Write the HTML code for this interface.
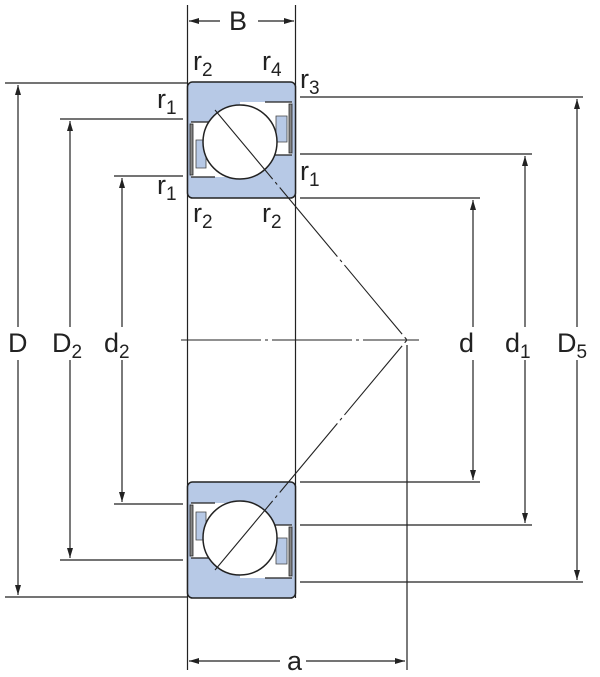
<!DOCTYPE html>
<html><head><meta charset="utf-8"><style>
html,body{margin:0;padding:0;background:#fff}
svg{display:block}
text{font-family:"Liberation Sans",sans-serif;fill:#222}
</style></head><body>
<svg width="600" height="677" viewBox="0 0 600 677">
<defs>
<marker id="ar" viewBox="0 0 10 6" refX="10" refY="3" markerWidth="14" markerHeight="6" markerUnits="userSpaceOnUse" orient="auto-start-reverse">
<path d="M0,0 L10,3 L0,6 z" fill="#222"/></marker>
<g id="brg">
<rect x="187.5" y="82" width="108" height="116" rx="5" fill="#b7c9e6" stroke="#222" stroke-width="1.5"/>
<path d="M191,122 H240 V102 H292 V155 H240 V177 H191 Z" fill="#fff"/>
<path d="M191,122 H215 M191,177 H215 M265,102 H292 M265,155 H292" stroke="#222" stroke-width="1.2" fill="none"/>
<path d="M196,140 H206 V168 H196 Z" fill="#b7c9e6" stroke="#444" stroke-width="0.8"/>
<path d="M276,116 H287 V142 H276 Z" fill="#b7c9e6" stroke="#444" stroke-width="0.8"/>
<rect x="190" y="124" width="3" height="51" fill="#888" stroke="#222" stroke-width="0.8"/>
<rect x="289" y="104" width="3" height="49" fill="#888" stroke="#222" stroke-width="0.8"/>
<circle cx="240" cy="142" r="37" fill="#fff" stroke="#222" stroke-width="1.5"/>
</g>
</defs>
<g stroke="#222" stroke-width="1.2" fill="none">
<line x1="187.5" y1="5" x2="187.5" y2="670"/>
<line x1="295.5" y1="5" x2="295.5" y2="598"/>
<line x1="189" y1="21" x2="220" y2="21" marker-start="url(#ar)"/>
<line x1="258" y1="21" x2="294" y2="21" marker-end="url(#ar)"/>
<line x1="5" y1="83" x2="187" y2="83"/>
<line x1="5" y1="597" x2="187" y2="597"/>
<line x1="60" y1="119" x2="183" y2="119"/>
<line x1="60" y1="560" x2="183" y2="560"/>
<line x1="114" y1="176" x2="183" y2="176"/>
<line x1="114" y1="504" x2="183" y2="504"/>
<line x1="300" y1="97" x2="583" y2="97"/>
<line x1="300" y1="582" x2="583" y2="582"/>
<line x1="300" y1="154" x2="532" y2="154"/>
<line x1="300" y1="525" x2="532" y2="525"/>
<line x1="300" y1="198" x2="480" y2="198"/>
<line x1="300" y1="482" x2="480" y2="482"/>
<line x1="18" y1="327" x2="18" y2="85" marker-end="url(#ar)"/>
<line x1="18" y1="360" x2="18" y2="595" marker-end="url(#ar)"/>
<line x1="70" y1="327" x2="70" y2="121" marker-end="url(#ar)"/>
<line x1="70" y1="360" x2="70" y2="558" marker-end="url(#ar)"/>
<line x1="122" y1="327" x2="122" y2="178" marker-end="url(#ar)"/>
<line x1="122" y1="360" x2="122" y2="502" marker-end="url(#ar)"/>
<line x1="473" y1="327" x2="473" y2="200" marker-end="url(#ar)"/>
<line x1="473" y1="360" x2="473" y2="480" marker-end="url(#ar)"/>
<line x1="525" y1="327" x2="525" y2="156" marker-end="url(#ar)"/>
<line x1="525" y1="360" x2="525" y2="523" marker-end="url(#ar)"/>
<line x1="577" y1="327" x2="577" y2="99" marker-end="url(#ar)"/>
<line x1="577" y1="360" x2="577" y2="580" marker-end="url(#ar)"/>
<line x1="407" y1="345" x2="407" y2="670"/>
<line x1="189" y1="661" x2="280" y2="661" marker-start="url(#ar)"/>
<line x1="306" y1="661" x2="405" y2="661" marker-end="url(#ar)"/>
</g>
<use href="#brg"/>
<use href="#brg" transform="translate(0,680) scale(1,-1)"/>
<g stroke="#222" stroke-width="1.1" fill="none">
<line x1="181" y1="340" x2="419" y2="340" stroke-dasharray="80,4,3,4"/>
<line x1="215" y1="110" x2="407" y2="340" stroke-dasharray="90,4,3,4"/>
<line x1="215" y1="570" x2="407" y2="340" stroke-dasharray="90,4,3,4"/>
</g>
<g font-size="27">
<text x="229" y="30">B</text>
<text x="287" y="670">a</text>
<text x="8" y="352">D</text>
<text x="52" y="352">D<tspan font-size="19" dy="6">2</tspan></text>
<text x="104" y="352">d<tspan font-size="19" dy="6">2</tspan></text>
<text x="459" y="352">d</text>
<text x="505" y="352">d<tspan font-size="19" dy="6">1</tspan></text>
<text x="557" y="352">D<tspan font-size="19" dy="6">5</tspan></text>
<text x="193" y="70">r<tspan font-size="19" dy="6">2</tspan></text>
<text x="262" y="70">r<tspan font-size="19" dy="6">4</tspan></text>
<text x="300" y="88">r<tspan font-size="19" dy="6">3</tspan></text>
<text x="157" y="108">r<tspan font-size="19" dy="6">1</tspan></text>
<text x="157" y="194">r<tspan font-size="19" dy="6">1</tspan></text>
<text x="300" y="180">r<tspan font-size="19" dy="6">1</tspan></text>
<text x="193" y="222">r<tspan font-size="19" dy="6">2</tspan></text>
<text x="262" y="222">r<tspan font-size="19" dy="6">2</tspan></text>
</g>
</svg>
</body></html>
